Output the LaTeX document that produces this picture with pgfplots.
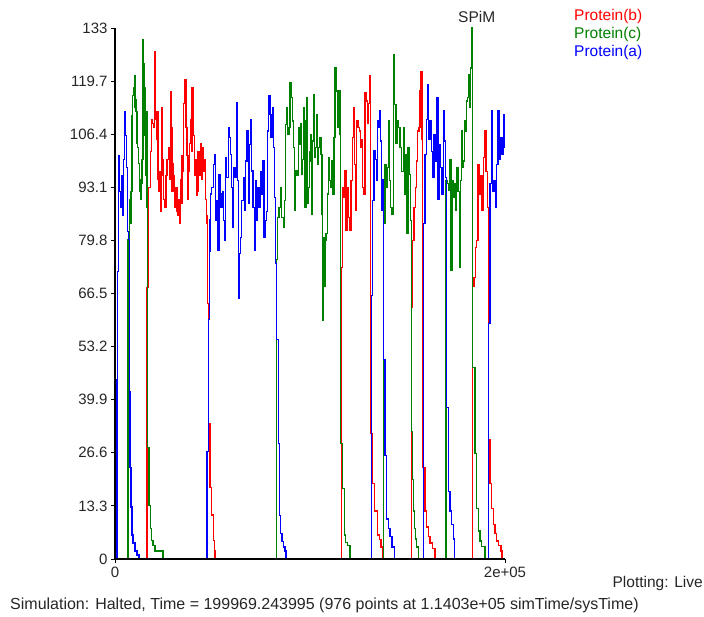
\documentclass[border=0pt]{standalone}
\usepackage{pgfplots}
\pgfplotsset{compat=1.18}
\usepackage{fontspec}
\setmainfont{Liberation Sans}
\definecolor{pred}{RGB}{255,0,0}
\definecolor{pgreen}{RGB}{0,128,0}
\definecolor{pblue}{RGB}{0,0,255}
\begin{document}
\begin{tikzpicture}[x=1pt,y=1pt]
\useasboundingbox (0,0) rectangle (704,616);
\begin{axis}[
  at={(115pt,57pt)}, anchor=south west,
  scale only axis, width=390pt, height=531pt,
  xmin=0, xmax=200000, ymin=0, ymax=133,
  axis on top,
  axis lines*=left, axis line style={-, line width=1.4pt, black},
  xtick={0,200000}, xticklabels={0,2e+05},
  ytick={0,13.3,26.6,39.9,53.2,66.5,79.8,93.1,106.4,119.7,133},
  yticklabels={0,13.3,26.6,39.9,53.2,66.5,79.8,93.1,106.4,119.7,133},
  scaled x ticks=false, scaled y ticks=false,
  tick align=outside, major tick length=4pt,
  tick style={black, line width=0.9pt},
  tick label style={font=\fontsize{15}{18}\selectfont, text=black!85},
  every axis plot/.append style={const plot, line width=1.2pt, mark=none},
]
% Protein(b)
\addplot[pred] table {
0 0
16410 68
17280 93
18100 102
18610 110
19330 109
19850 108
20360 127
20670 110
21180 105
21540 112
22050 95
22410 92
22820 97
23230 87
23690 96
24100 113
24460 100
24970 90
25490 88
26150 96
26670 100
27540 103
27950 95
28360 117
28870 108
29230 92
29740 99
30100 96
30610 88
31280 93
31790 87
32310 86
32670 90
33080 84
33490 95
33950 89
34360 101
34870 97
35230 114
35740 120
36410 108
36920 101
37430 90
37790 97
38200 104
38610 110
39080 102
39490 118
40000 112
40360 106
40770 96
41180 100
41640 91
42050 92
42560 102
43230 96
43740 104
44200 95
44610 98
45130 103
45490 97
45900 100
46310 90
46770 84
47180 86
47540 64
47840 34
48720 18
49590 11
50410 4.6
50920 2
51280 0
116050 73
116770 93
117430 90.6
117940 97.2
118460 82.3
119120 93.1
119840 85.6
120510 82.3
121020 94.8
121690 105.6
122200 113
122710 98.9
123430 87.3
123940 109.7
124610 108.1
125280 107.2
126000 103.1
126510 105
127020 93.1
127690 91.4
128200 116.8
128710 114.7
129380 109
130100 114
130610 121
131120 31.5
132150 19
133170 12
134510 6
135530 4.8
136400 3
137070 0
152150 63
152660 79.8
153330 88.1
153990 93.1
154710 99.7
155220 107.2
155890 108
156400 117.2
156920 122.2
157430 105
157790 23
158970 12
159840 8
160660 5.6
161530 4
162920 2.6
164100 0
183430 68.2
184100 70.6
184760 78.1
185480 79.8
186150 98.9
186810 91.4
187530 96
188200 87.3
188860 100.6
189580 107.2
190250 97
190920 88.1
191430 30
192300 19
193170 12.7
193990 8.6
194860 6.4
195740 4.5
196560 3.3
197940 2
198450 0
199970 0
};
% Protein(c)
\addplot[pgreen] table {
0 0
6670 80
7330 90
7850 84
8200 92
8720 111
9080 116
9490 118
9900 113
10100 121
10410 115
10770 112
11280 104
11640 103
12150 99
12460 92
12820 95
13180 90
13490 100
13850 94
14200 100
14360 130
14720 124
15020 106
15380 118
15740 96
16050 112
16410 88
16560 28
17440 13.5
18200 7.6
18720 4.6
19490 3.3
20510 2
24610 0
82920 75
83430 85.6
84100 88.1
84770 93.1
85480 85.6
86300 83.1
86820 89.8
87530 108.9
88050 113
88560 106.4
89230 108
89740 119.3
90250 115.5
90920 109.7
91430 103.1
91940 89
92300 87.3
92660 97.2
93330 96
94000 108.1
94870 103.9
95380 109
95740 96.4
96150 100
96560 113
96920 109.7
97430 88.1
97940 96
98300 115.5
98610 89
99120 93.1
99590 102
100000 99.7
100510 106.4
100870 86.4
101380 104.7
101890 116.4
102410 100.6
102920 103
103430 111.4
103940 98.9
104460 103
105120 105.6
105640 101.4
106150 86.4
106510 59.8
106820 80.6
107180 68.2
107690 79.8
108200 81.5
108870 91.4
109590 100.6
110100 94.8
110610 93
111280 99.7
111790 91.4
112300 105.6
112820 123
113330 117.2
114000 108.1
114710 117.2
115380 106.4
115740 29
116770 17.6
117590 6
118300 4.2
119330 3.3
120510 0
137580 84
138460 98.9
138970 93
139640 98
140350 109.7
140870 94.8
141380 88.1
142050 86.4
142710 126.3
143430 113.9
144100 104
144760 109.7
145480 108.1
146150 103
147020 97
147840 108.1
148560 91.4
149220 101.4
149580 81.5
150250 103
150920 96.4
151630 84.8
151940 32
152460 20
152970 12
153480 7.6
153990 5
154710 3
155530 0
169740 94.8
170610 94
171120 92.2
171790 100
172300 72.3
172810 94.8
173480 90.6
173990 94
174510 87.3
175220 98
175890 92
176560 73.1
177070 94.8
177580 107.2
178100 98
178610 99.7
179120 109.7
179630 107
180350 114.7
180860 115.5
181380 121.4
181890 113
182400 123
182920 133
183430 48
184610 26.5
185480 12.7
186300 7
187170 4.5
188040 3.2
189740 0
199970 0
};
% Protein(a)
\addplot[pblue] table {
0 0
1030 45
1280 72
1690 101
2210 92
2720 88
3230 96
3740 86
4260 100
4770 112
5280 106
5790 98
6310 82
6820 80
7330 42
7690 23
8200 13
8720 6
9230 4
10260 2
11280 1
12310 0
47180 27
47840 60
48360 77
48720 85
49080 91.4
49590 93
50410 98.9
50920 101.4
51640 84.8
52150 89.8
52670 77.3
53330 96.4
53840 91.4
54360 88.1
55020 92
55540 84.8
56050 79.8
56770 100.6
57280 95.6
58100 108.1
58610 105.6
59130 101.4
59840 93.1
60360 83.1
60870 98.1
61540 95.6
62410 114.3
62920 94.8
63230 65.2
63740 76.5
64250 80.6
64970 89.8
65790 95.6
66310 87.3
67020 99.7
67690 107.2
68360 89
68870 103.9
69590 110.1
70100 97.2
70770 88.1
71430 77.3
72150 94.8
72660 84.8
73180 93.1
73840 88
74510 97
75230 91.4
75740 99.7
76410 80.6
76920 84.8
77590 87
78300 107.2
78820 116
79480 111.4
80000 105.6
80660 113
81180 103.1
81690 90.6
82410 74
82920 55
83740 29
84250 10.8
84970 6.4
85640 4.3
86300 3
87180 2
87690 0
131640 66
132150 89.8
132820 102.2
133480 100
134200 94.8
134710 109.7
135230 108
135740 112.2
136250 104.7
136760 87.3
137280 95
137580 50
138460 26
139330 10
140150 7.6
141020 5.6
142050 3
143230 0
158100 84
158970 101.4
159580 110
160150 118.9
160870 105
161530 109.7
162200 102
162920 95.6
163580 106.4
164250 99.7
164970 115.5
165630 90
166300 103.9
167020 98.1
167690 91.4
168350 112.2
168870 104.7
169380 95.6
169890 38
170920 17
171790 12
172660 8.6
173480 5
173990 0
191430 59
192300 94
192970 112.2
193690 92
194350 94.8
195020 88.1
195740 98.9
196400 112.2
197070 100
197790 105.6
198450 101.4
199120 111.4
199740 103
199970 103
};
\end{axis}
\node[anchor=base west, inner sep=0pt, text=black!85, font=\fontsize{15.5}{18}\selectfont] at (458,593.3) {SPiM};
\node[anchor=base west, inner sep=0pt, text=pred, font=\fontsize{15.5}{18}\selectfont] at (574,595) {Protein(b)};
\node[anchor=base west, inner sep=0pt, text=pgreen, font=\fontsize{15.5}{18}\selectfont] at (574,577) {Protein(c)};
\node[anchor=base west, inner sep=0pt, text=pblue, font=\fontsize{15.5}{18}\selectfont] at (574,559) {Protein(a)};
\node[anchor=base east, inner sep=0pt, text=black!85, font=\fontsize{15.5}{18}\selectfont] at (703,29) {Plotting: Live};
\node[anchor=base west, inner sep=0pt, text=black!85, font=\fontsize{16}{18}\selectfont] at (10,7) {Simulation: Halted, Time = 199969.243995 (976 points at 1.1403e+05 simTime/sysTime)};
\end{tikzpicture}
\end{document}
